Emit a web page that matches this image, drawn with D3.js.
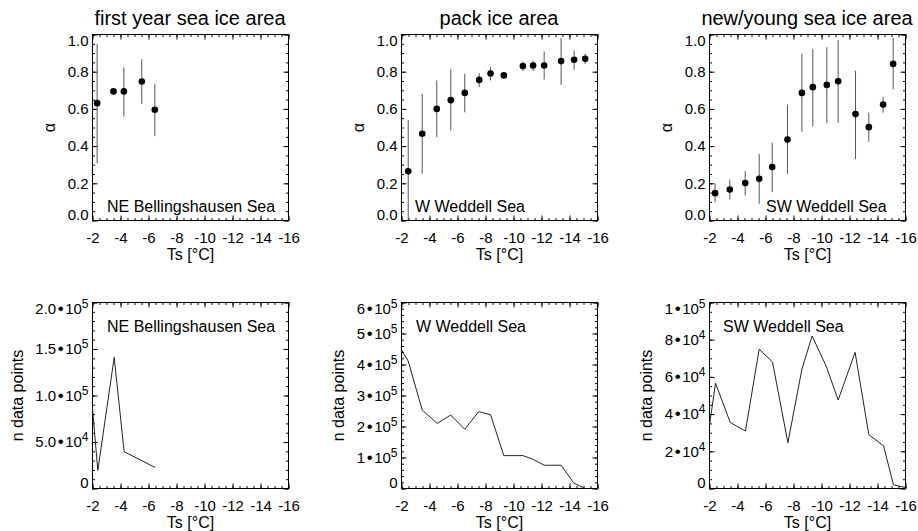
<!DOCTYPE html>
<html>
<head>
<meta charset="utf-8">
<script src="https://cdn.jsdelivr.net/npm/d3@7"></script>
<style>
  body { margin: 0; background: #fff; }
  svg { display: block; }
</style>
</head>
<body>
<div id="chart"></div>
<script>
// ---- data ----
const titles = ['first year sea ice area', 'pack ice area', 'new/young sea ice area'];
const regions = ['NE Bellingshausen Sea', 'W Weddell Sea', 'SW Weddell Sea'];

const xTicks = [-2, -4, -6, -8, -10, -12, -14, -16];
const alphaTicks = [0, 0.2, 0.4, 0.6, 0.8, 1.0];
const alphaTickLabels = ['0.0', '0.2', '0.4', '0.6', '0.8', '1.0'];

// first year ice, NE Bellingshausen Sea
const fyTs = [-2.33, -3.5, -4.24, -5.52, -6.45];
const fyAlpha = [0.631, 0.694, 0.694, 0.747, 0.595];
const fyLow = [0.308, 0.676, 0.559, 0.627, 0.453];
const fyHigh = [0.95, 0.711, 0.824, 0.867, 0.735];
const fyCountTs = [-2.0, -2.38, -3.55, -4.26, -6.48];
const fyCount = [86000, 19500, 141000, 39500, 22600];

// pack ice, W Weddell Sea
const packTs = [-2.48, -3.48, -4.52, -5.52, -6.52, -7.55, -8.36, -9.31, -10.67, -11.4, -12.19, -13.4, -14.33, -15.12];
const packAlpha = [0.265, 0.466, 0.6, 0.647, 0.686, 0.756, 0.79, 0.78, 0.83, 0.833, 0.833, 0.857, 0.864, 0.869];
const packLow = [0.0, 0.251, 0.448, 0.484, 0.581, 0.717, 0.753, 0.77, 0.803, 0.803, 0.758, 0.729, 0.81, 0.842];
const packHigh = [0.541, 0.681, 0.753, 0.812, 0.789, 0.792, 0.824, 0.79, 0.855, 0.86, 0.909, 0.982, 0.914, 0.896];
const packCountTs = [-2.0, -2.48, -3.48, -4.55, -5.52, -6.52, -7.52, -8.36, -9.31, -10.69, -11.4, -12.2, -13.4, -14.3, -15.1];
const packCount = [447000, 411000, 253000, 210000, 237000, 191000, 248000, 238000, 106000, 106000, 94000, 75000, 75000, 18000, 0];

// new/young ice, SW Weddell Sea
const nyTs = [-2.4, -3.45, -4.55, -5.55, -6.48, -7.57, -8.6, -9.38, -10.38, -11.19, -12.43, -13.38, -14.4, -15.12];
const nyAlpha = [0.147, 0.167, 0.201, 0.224, 0.287, 0.435, 0.686, 0.717, 0.729, 0.749, 0.572, 0.502, 0.624, 0.842];
const nyLow = [0.099, 0.113, 0.134, 0.09, 0.152, 0.251, 0.475, 0.505, 0.523, 0.525, 0.33, 0.423, 0.58, 0.703];
const nyHigh = [0.197, 0.22, 0.265, 0.358, 0.418, 0.622, 0.896, 0.923, 0.932, 0.971, 0.806, 0.58, 0.665, 0.982];
const nyCountTs = [-2.0, -2.43, -3.48, -4.57, -5.55, -6.5, -7.6, -8.6, -9.33, -10.33, -11.19, -12.4, -13.38, -14.43, -15.14, -16.0];
const nyCount = [34100, 56600, 35500, 30900, 74900, 68000, 24600, 64100, 82000, 65900, 47600, 73200, 28900, 23000, 2000, 500];

const countTicks = [
  [0, 5e4, 1e5, 1.5e5, 2e5],
  [0, 1e5, 2e5, 3e5, 4e5, 5e5, 6e5],
  [0, 2e4, 4e4, 6e4, 8e4, 1e5],
];
const countTickLabels = [
  ['0', '5.0•10^4', '1.0•10^5', '1.5•10^5', '2.0•10^5'],
  ['0', '1•10^5', '2•10^5', '3•10^5', '4•10^5', '5•10^5', '6•10^5'],
  ['0', '2•10^4', '4•10^4', '6•10^4', '8•10^4', '1•10^5'],
];

// ---- layout ----
const WIDTH = 918;
const HEIGHT = 531;
const FONT = "'Liberation Sans', Arial, Helvetica, sans-serif";
const TICK_FONT = 15;
const PANEL_W = 196;
const PANEL_H = 186;
const LEFTS = [92, 401, 709];
const TOP_ROW = 34;
const BOTTOM_ROW = 302;
const TOP_NOTE_X = [15, 14, 57];
const BOTTOM_NOTE_X = [15, 15, 14];
const COUNT_MINOR = [1e4, 2e4, 5e3];

const toPoints = (xs, ys) => xs.map((x, i) => ({ x, y: ys[i] }));
const toBars = (xs, ys, lo, hi) =>
  xs.map((x, i) => ({ x, y: ys[i], lo: lo[i], hi: hi[i] }));

const alphaSeries = [
  toBars(fyTs, fyAlpha, fyLow, fyHigh),
  toBars(packTs, packAlpha, packLow, packHigh),
  toBars(nyTs, nyAlpha, nyLow, nyHigh),
];
const countSeries = [
  toPoints(fyCountTs, fyCount),
  toPoints(packCountTs, packCount),
  toPoints(nyCountTs, nyCount),
];

const svg = d3
  .select('#chart')
  .append('svg')
  .attr('width', WIDTH)
  .attr('height', HEIGHT)
  .style('font-family', FONT);

// "2.0•10^5" -> 2.0 • 10 with a raised 5
const setLabel = (text, label) => {
  const [base, exp] = label.split('^');
  const [mantissa, power] = base.split('•');
  text.text(mantissa);
  if (power) {
    text.append('tspan').attr('dx', 1.5).attr('font-size', 17).text('•');
    text.append('tspan').attr('dx', 1.5).text(power);
  }
  if (exp) {
    text.append('tspan').attr('dy', '-0.5em').attr('font-size', 12).text(exp);
  }
};

const tickAxis = (g, axis, transform) =>
  g
    .append('g')
    .attr('transform', transform)
    .call(axis)
    .call((sel) => sel.select('.domain').remove())
    .call((sel) => sel.selectAll('line').attr('stroke', '#000'));

const drawAxes = (g, x, y, yTicks, yLabels, yMinorStep, yTitle) => {
  const [x0, x1] = x.range();
  const [y0, y1] = y.range();
  const xMinor = d3.range(-2, -16.01, -0.5);
  const yMax = y.domain()[1];
  const yMinor = d3.range(0, yMax + yMinorStep / 2, yMinorStep);

  // minor ticks on all four sides, major ticks mirrored on top/right
  tickAxis(g, d3.axisBottom(x).tickValues(xMinor).tickSize(-2.5).tickFormat(''), `translate(0,${y0})`);
  tickAxis(g, d3.axisTop(x).tickValues(xMinor).tickSize(-2.5).tickFormat(''), `translate(0,${y1})`);
  tickAxis(g, d3.axisLeft(y).tickValues(yMinor).tickSize(-2.5).tickFormat(''), `translate(${x0},0)`);
  tickAxis(g, d3.axisRight(y).tickValues(yMinor).tickSize(-2.5).tickFormat(''), `translate(${x1},0)`);
  tickAxis(g, d3.axisTop(x).tickValues(xTicks).tickSize(-5).tickFormat(''), `translate(0,${y1})`);
  tickAxis(g, d3.axisRight(y).tickValues(yTicks).tickSize(-5).tickFormat(''), `translate(${x1},0)`);

  // labelled axes
  const xAxis = tickAxis(
    g,
    d3.axisBottom(x).tickValues(xTicks).tickSize(-5).tickPadding(12).tickFormat((d) => `-${Math.abs(d)}`),
    `translate(0,${y0})`
  );
  xAxis.attr('font-size', TICK_FONT).attr('font-family', FONT);
  xAxis.selectAll('text').attr('fill', '#000');

  const yAxis = tickAxis(
    g,
    d3.axisLeft(y).tickValues(yTicks).tickSize(-5).tickPadding(4),
    `translate(${x0},0)`
  );
  yAxis.attr('font-size', TICK_FONT).attr('font-family', FONT);
  yAxis
    .selectAll('text')
    .attr('fill', '#000')
    .each(function (_, i) {
      setLabel(d3.select(this), yLabels[i]);
    })
    .attr('y', (_, i) => (i === 0 ? -5.5 : i === yTicks.length - 1 ? 6.5 : 0));

  g.append('rect')
    .attr('x', x0)
    .attr('y', y1)
    .attr('width', x1 - x0)
    .attr('height', y0 - y1)
    .attr('fill', 'none')
    .attr('stroke', '#000');

  g.append('text')
    .attr('x', (x0 + x1) / 2)
    .attr('y', y0 + 39.5)
    .attr('text-anchor', 'middle')
    .attr('font-size', 16)
    .text('Ts [°C]');

  const labelLeft = yAxis.node().getBBox().x;
  const cx = x0 + labelLeft - 17;
  const cy = (y0 + y1) / 2;
  g.append('text')
    .attr('transform', `translate(${cx},${cy}) rotate(-90)`)
    .attr('text-anchor', 'middle')
    .attr('dy', '0.27em')
    .attr('font-size', 16)
    .text(yTitle);
};

LEFTS.forEach((left, p) => {
  const xScale = d3.scaleLinear().domain([-2, -16]).range([left + 0.5, left + PANEL_W + 0.5]);

  // top row: alpha with error bars
  const gTop = svg.append('g');
  const yAlpha = d3.scaleLinear().domain([0, 1]).range([TOP_ROW + PANEL_H + 0.5, TOP_ROW + 0.5]);

  gTop
    .append('text')
    .attr('x', left + PANEL_W / 2)
    .attr('y', 25)
    .attr('text-anchor', 'middle')
    .attr('font-size', 20)
    .text(titles[p]);

  drawAxes(gTop, xScale, yAlpha, alphaTicks, alphaTickLabels, 0.05, 'α');

  gTop
    .selectAll('line.err')
    .data(alphaSeries[p])
    .join('line')
    .attr('class', 'err')
    .attr('x1', (d) => xScale(d.x))
    .attr('x2', (d) => xScale(d.x))
    .attr('y1', (d) => yAlpha(d.lo))
    .attr('y2', (d) => yAlpha(d.hi))
    .attr('stroke', '#555')
    .attr('stroke-width', 1);

  gTop
    .selectAll('circle')
    .data(alphaSeries[p])
    .join('circle')
    .attr('cx', (d) => xScale(d.x))
    .attr('cy', (d) => yAlpha(d.y))
    .attr('r', 3.3)
    .attr('fill', '#000');

  gTop
    .append('text')
    .attr('x', left + TOP_NOTE_X[p])
    .attr('y', TOP_ROW + PANEL_H - 8)
    .attr('font-size', 16)
    .text(regions[p]);

  // bottom row: number of data points
  const gBottom = svg.append('g');
  const yCount = d3
    .scaleLinear()
    .domain([0, d3.max(countTicks[p])])
    .range([BOTTOM_ROW + PANEL_H + 0.5, BOTTOM_ROW + 0.5]);

  drawAxes(gBottom, xScale, yCount, countTicks[p], countTickLabels[p], COUNT_MINOR[p], 'n data points');

  gBottom
    .append('path')
    .datum(countSeries[p])
    .attr('fill', 'none')
    .attr('stroke', '#222')
    .attr('stroke-width', 1)
    .attr('d', d3.line().x((d) => xScale(d.x)).y((d) => yCount(d.y)));

  gBottom
    .append('text')
    .attr('x', left + BOTTOM_NOTE_X[p])
    .attr('y', BOTTOM_ROW + 29.5)
    .attr('font-size', 16)
    .text(regions[p]);
});
</script>
</body>
</html>
